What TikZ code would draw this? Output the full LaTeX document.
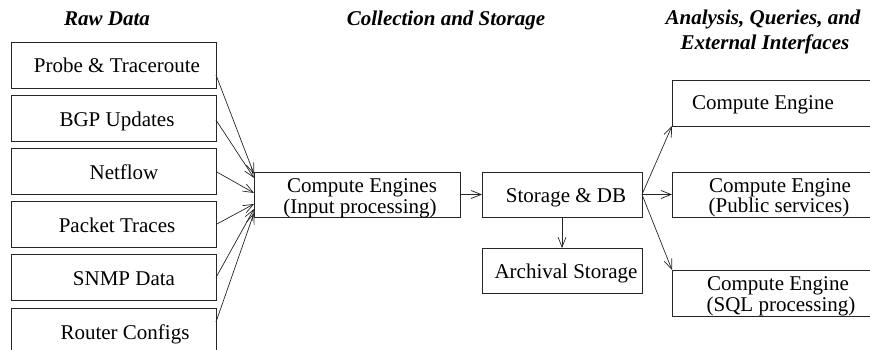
\documentclass[tikz,border=0pt]{standalone}
\usepackage{fontspec}
\setmainfont{Liberation Serif}
\usetikzlibrary{arrows.meta}
\begin{document}
\begin{tikzpicture}[x=1pt,y=-1pt,
  box/.style={draw=black!85, line width=0.9pt, rectangle, inner sep=0pt, outer sep=0pt},
  src/.style={box, minimum width=205pt, minimum height=46pt},
  txt/.style={anchor=base, inner sep=0pt, font=\fontsize{21}{21}\selectfont},
  hdr/.style={anchor=base, inner sep=0pt, font=\fontsize{21}{21}\selectfont\bfseries\itshape},
  arr/.style={draw=black!85, line width=0.7pt, -{Straight Barb[length=10pt,width=8pt]}}
]
\useasboundingbox (0,0) rectangle (870,350);

% headers
\node[hdr] (h1) at (107,26) {Raw Data};
\node[hdr] (h2) at (446,26) {Collection and Storage};
\node[hdr] (h3a) at (763,25) {Analysis, Queries, and};
\node[hdr] (h3b) at (765,50) {External Interfaces};

% raw data boxes
\node[src] (probe) at (113.5,65) {};
\node[src] (bgp) at (113.5,118.5) {};
\node[src] (netflow) at (113.5,171.5) {};
\node[src] (packet) at (113.5,224.5) {};
\node[src] (snmp) at (113.5,277.5) {};
\node[src] (router) at (113.5,331) {};
\node[txt] (probeT) at (117,73) {Probe \& Traceroute};
\node[txt] (bgpT) at (117,126.5) {BGP Updates};
\node[txt] (netflowT) at (124,179.5) {Netflow};
\node[txt] (packetT) at (117,232.5) {Packet Traces};
\node[txt] (snmpT) at (124,285.5) {SNMP Data};
\node[txt] (routerT) at (125,339) {Router Configs};

% middle boxes
\node[box, minimum width=206pt, minimum height=45pt] (input) at (357,194.5) {};
\node[txt] (inputT1) at (362,192) {Compute Engines};
\node[txt] (inputT2) at (360,213) {(Input processing)};
\node[box, minimum width=160pt, minimum height=45pt] (store) at (562,194.5) {};
\node[txt] (storeT) at (566,202) {Storage \& DB};
\node[box, minimum width=160pt, minimum height=45pt] (arch) at (562,270.5) {};
\node[txt] (archT) at (566,278) {Archival Storage};

% right boxes
\node[box, minimum width=205pt, minimum height=46pt] (ce1) at (774.5,103) {};
\node[txt] (ce1T) at (763,110) {Compute Engine};
\node[box, minimum width=205pt, minimum height=45pt] (ce2) at (774.5,194.5) {};
\node[txt] (ce2T1) at (780,192) {Compute Engine};
\node[txt] (ce2T2) at (779,212) {(Public services)};
\node[box, minimum width=205pt, minimum height=46pt] (ce3) at (774.5,293) {};
\node[txt] (ce3T1) at (778,290) {Compute Engine};
\node[txt] (ce3T2) at (781,311) {(SQL processing)};

% connector end points on the input box
\coordinate (i1) at (254,174);
\coordinate (i2) at (254,178);
\coordinate (i3) at (254,193);
\coordinate (i4) at (254,204);
\coordinate (i5) at (254,209);
\coordinate (i6) at (254,213);

\draw[arr] (probe.east |- 0,75) -- (i1);
\draw[arr] (bgp.east |- 0,120) -- (i2);
\draw[arr] (netflow.east) -- (i3);
\draw[arr] (packet.east) -- (i4);
\draw[arr] (snmp.east) -- (i5);
\draw[arr] (router.east |- 0,322) -- (i6);

\draw[arr] (input.east) -- (store.west);
\draw[arr] (store.south) -- (arch.north);
\draw[arr] (store.east) -- (ce1.south west);
\draw[arr] (store.east) -- (ce2.west);
\draw[arr] (store.east) -- (ce3.north west);
\end{tikzpicture}
\end{document}
